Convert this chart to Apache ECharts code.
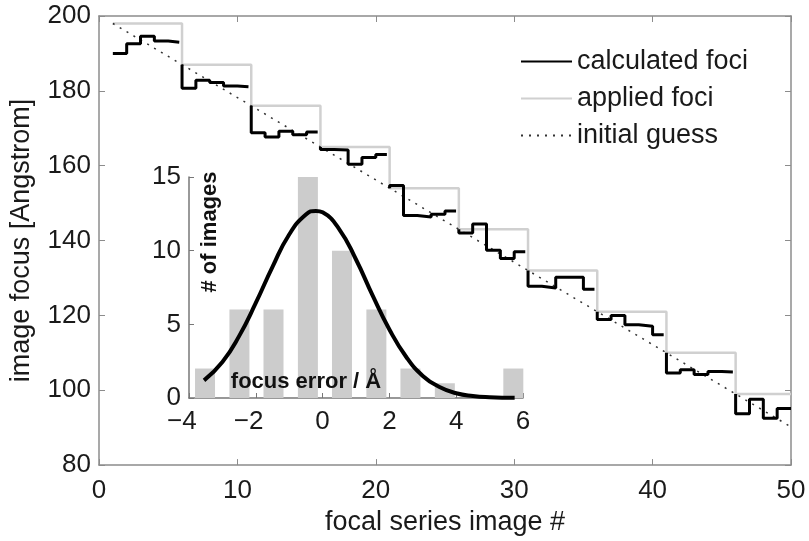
<!DOCTYPE html>
<html>
<head>
<meta charset="utf-8">
<script src="https://cdn.jsdelivr.net/npm/echarts@6/dist/echarts.min.js"></script>
<style>
  html, body { margin: 0; padding: 0; background: #fff; }
  #chart { width: 809px; height: 541px; }
</style>
</head>
<body>
<div id="chart"></div>
<script>
// focal series: image index 1..50
const images = [1,2,3,4,5,6,7,8,9,10,11,12,13,14,15,16,17,18,19,20,21,22,23,24,25,
  26,27,28,29,30,31,32,33,34,35,36,37,38,39,40,41,42,43,44,45,46,47,48,49,50];

// calculated foci [Angstrom]
const calculatedFoci = [190.0,192.6,194.6,193.3,193.0, 180.7,182.8,182.2,181.3,181.1,
  168.8,167.7,169.2,168.3,169.0, 164.3,164.2,160.4,162.2,163.0,
  154.7,146.7,146.3,147.0,147.9, 142.0,144.4,137.4,135.2,137.0,
  127.8,127.3,130.2,130.2,127.0, 118.9,120.0,117.5,117.1,114.8,
  104.6,105.5,104.2,105.0,104.9, 93.7,97.6,92.5,95.1,95.1];

// applied foci [Angstrom]
const appliedFoci = [198,198,198,198,198, 187,187,187,187,187, 176,176,176,176,176,
  165,165,165,165,165, 154,154,154,154,154, 143,143,143,143,143,
  132,132,132,132,132, 121,121,121,121,121, 110,110,110,110,110, 99,99,99,99,99];

// initial guess (straight line)
const guessX = [1, 50];
const guessY = [198, 90.2];

// inset histogram
const errorBins = [-3.52,-2.49,-1.47,-0.44,0.58,1.61,2.63,3.66,4.68,5.71];
const errorCounts = [2,6,6,15,10,6,2,1,0,2];

// inset fitted curve
const fitX = [-3.55,-3,-2.5,-2,-1.5,-1,-0.5,-0.2,0,0.5,1,1.5,2,2.5,3,3.5,4,4.5,5,5.75];
const fitY = [1.2,2.45,4.2,6.45,8.9,11.1,12.45,12.7,12.6,11.45,9.4,6.95,4.65,2.8,1.5,0.75,0.32,0.13,0.05,0.01];

const groupSize = 5;
const groupEndGap = 0.2;

// calculated foci: one stairs run per group, starting from the applied level
const calcData = [];
for (let s = 0; s < images.length; s += groupSize) {
  if (s > 0) calcData.push([images[s], appliedFoci[s]]);
  const e = Math.min(s + groupSize, images.length);
  for (let i = s; i < e; i++) calcData.push([images[i], calculatedFoci[i]]);
  if (e < images.length) calcData.push([images[e - 1] + 1 - groupEndGap, calculatedFoci[e - 1]]);
  calcData.push([null, null]);
}

const font = "'Liberation Sans', Arial, Helvetica, sans-serif";
const txt = '#1a1a1a';
const axisGray = '#8c8c8c';

const chart = echarts.init(document.getElementById('chart'));

const option = {
  backgroundColor: '#fff',
  animation: false,
  textStyle: { fontFamily: font },
  grid: [
    { left: 99, top: 16, width: 692, height: 458 },
    { left: 189, top: 177, width: 334, height: 221 }
  ],
  legend: {
    left: 515, top: 43, orient: 'vertical',
    itemWidth: 51, itemHeight: 14, itemGap: 10,
    itemStyle: { opacity: 0 },
    textStyle: { fontSize: 27, color: txt, fontFamily: font },
    data: ['calculated foci', 'applied foci', 'initial guess']
  },
  xAxis: [
    {
      type: 'value', gridIndex: 0, min: 0, max: 50, interval: 10,
      name: 'focal series image #', nameLocation: 'middle', nameGap: 38,
      nameTextStyle: { fontSize: 27, color: txt },
      axisLine: { onZero: false, lineStyle: { color: axisGray, width: 1.5 } },
      axisTick: { inside: true, length: 6, lineStyle: { color: axisGray } },
      axisLabel: { fontSize: 26, color: txt, margin: 13 },
      splitLine: { show: false }
    },
    {
      type: 'value', gridIndex: 0, position: 'top', min: 0, max: 50, interval: 10,
      axisLine: { onZero: false, lineStyle: { color: axisGray, width: 1.5 } },
      axisTick: { inside: true, length: 6, lineStyle: { color: axisGray } },
      axisLabel: { show: false },
      splitLine: { show: false }
    },
    {
      type: 'value', gridIndex: 1, min: -4, max: 6, interval: 2,
      axisLine: { onZero: false, lineStyle: { color: '#777', width: 1.5 } },
      axisTick: { inside: true, length: 5, lineStyle: { color: '#777' } },
      axisLabel: {
        fontSize: 26, color: txt, margin: 11,
        formatter: v => v < 0 ? '\u2212' + Math.abs(v) + '\u2007' : String(v)
      },
      splitLine: { show: false }
    }
  ],
  yAxis: [
    {
      type: 'value', gridIndex: 0, min: 80, max: 200, interval: 20,
      name: 'image focus [Angstrom]', nameLocation: 'middle', nameGap: 64,
      nameTextStyle: { fontSize: 27, color: txt },
      axisLine: { show: true, onZero: false, lineStyle: { color: axisGray, width: 1.5 } },
      axisTick: { show: true, inside: true, length: 6, lineStyle: { color: axisGray } },
      axisLabel: { fontSize: 26, color: txt, margin: 8 },
      splitLine: { show: false }
    },
    {
      type: 'value', gridIndex: 0, position: 'right', min: 80, max: 200, interval: 20,
      axisLine: { show: true, onZero: false, lineStyle: { color: axisGray, width: 1.5 } },
      axisTick: { show: true, inside: true, length: 6, lineStyle: { color: axisGray } },
      axisLabel: { show: false },
      splitLine: { show: false }
    },
    {
      type: 'value', gridIndex: 1, min: 0, max: 15, interval: 5,
      axisLine: { show: true, onZero: false, lineStyle: { color: '#777', width: 1.5 } },
      axisTick: { show: true, inside: true, length: 5, lineStyle: { color: '#777' } },
      axisLabel: { fontSize: 26, color: txt, margin: 8 },
      splitLine: { show: false }
    }
  ],
  graphic: [
    {
      type: 'text', x: 210, y: 232, rotation: Math.PI / 2, z: 100,
      style: { text: '# of images', font: 'bold 22px ' + font, fill: '#111', align: 'center', verticalAlign: 'middle' }
    },
    {
      type: 'text', x: 306, y: 382, z: 100,
      style: { text: 'focus error / Å', font: 'bold 22px ' + font, fill: '#111', align: 'center', verticalAlign: 'middle' }
    }
  ],
  series: [
    {
      name: 'inset histogram', type: 'bar', xAxisIndex: 2, yAxisIndex: 2,
      barWidth: 20, itemStyle: { color: '#cccccc' },
      data: errorBins.map((c, i) => [c, errorCounts[i]])
    },
    {
      name: 'applied foci', type: 'line', xAxisIndex: 0, yAxisIndex: 0,
      step: 'end', symbol: 'none',
      lineStyle: { color: '#d0d0d0', width: 2.5 }, itemStyle: { color: '#d0d0d0' },
      data: images.map((x, i) => [x, appliedFoci[i]])
    },
    {
      name: 'initial guess', type: 'line', xAxisIndex: 0, yAxisIndex: 0,
      symbol: 'none',
      lineStyle: { color: '#333', width: 1.5, type: [2, 6] }, itemStyle: { color: '#333' },
      data: guessX.map((x, i) => [x, guessY[i]])
    },
    {
      name: 'calculated foci', type: 'line', xAxisIndex: 0, yAxisIndex: 0,
      step: 'end', symbol: 'none', connectNulls: false,
      lineStyle: { color: '#000', width: 3 }, itemStyle: { color: '#000' },
      data: calcData
    },
    {
      name: 'fit', type: 'line', xAxisIndex: 2, yAxisIndex: 2,
      smooth: true, symbol: 'none', z: 3,
      lineStyle: { color: '#000', width: 4 },
      data: fitX.map((x, i) => [x, fitY[i]])
    }
  ]
};

chart.setOption(option);
</script>
</body>
</html>
